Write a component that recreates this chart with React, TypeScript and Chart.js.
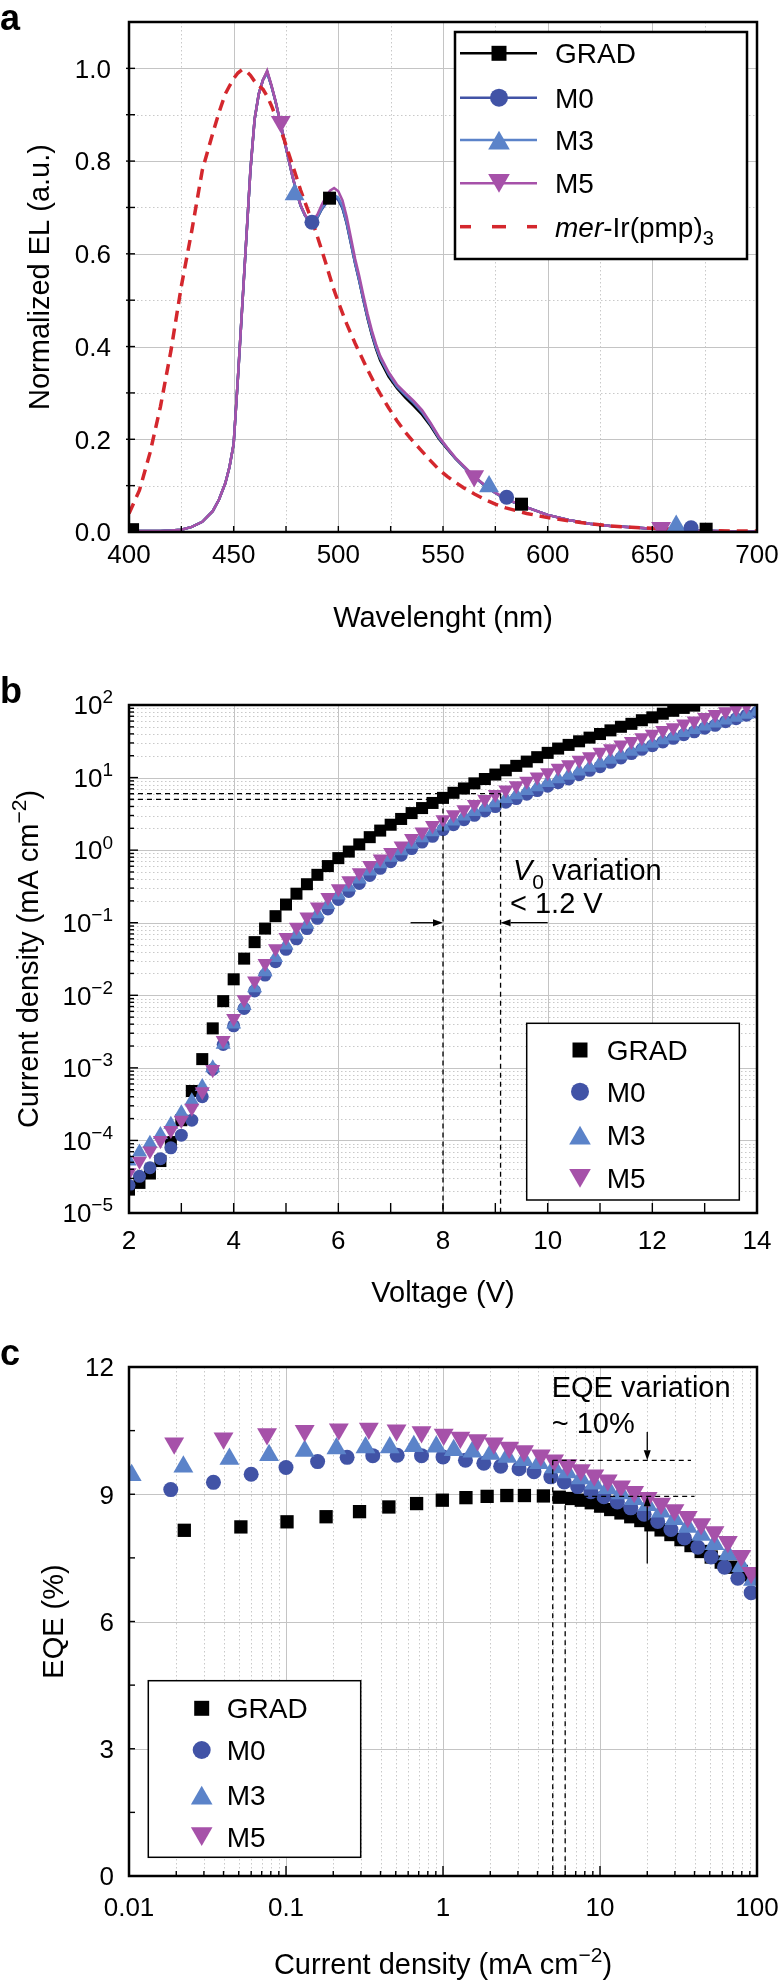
import React, { useEffect, useRef } from 'react';
import { Chart, registerables } from 'chart.js';

Chart.register(...registerables);

const FONT = '"Liberation Sans", Arial, Helvetica, sans-serif';
const C_GRAD = '#000000';
const C_M0 = '#4153a6';
const C_M3 = '#5b83c9';
const C_M5 = '#a651a9';
const C_MER = '#d4272d';
const GRID_MAJOR = '#c4c4c4';
const GRID_MINOR = '#c9c9c9';

// ---------------- panel a : EL spectra ----------------
const WAVELENGTH = [400, 405, 410, 415, 420, 425, 430, 435, 440, 443, 446, 448, 450, 452, 454, 456, 458, 460, 462, 464, 466, 468, 470, 472, 474, 476, 478, 480, 482, 484, 486, 488, 490, 492, 494, 496, 498, 500, 502, 504, 506, 508, 510, 512, 514, 516, 518, 520, 524, 528, 532, 536, 540, 544, 548, 552, 556, 560, 565, 570, 575, 580, 590, 600, 610, 620, 630, 640, 650, 660, 670, 680, 690, 700];
const EL_M5 = [0.003, 0.002, 0.002, 0.002, 0.003, 0.005, 0.011, 0.022, 0.045, 0.07, 0.105, 0.14, 0.19, 0.33, 0.48, 0.63, 0.78, 0.89, 0.945, 0.975, 0.995, 0.965, 0.93, 0.89, 0.85, 0.81, 0.77, 0.735, 0.705, 0.685, 0.672, 0.672, 0.685, 0.705, 0.722, 0.736, 0.742, 0.735, 0.715, 0.68, 0.635, 0.59, 0.552, 0.51, 0.47, 0.435, 0.405, 0.38, 0.345, 0.318, 0.3, 0.283, 0.263, 0.236, 0.206, 0.182, 0.16, 0.142, 0.12, 0.101, 0.085, 0.072, 0.053, 0.037, 0.026, 0.018, 0.013, 0.01, 0.007, 0.005, 0.003, 0.002, 0.001, 0.001];
const EL_M0 = [0.003, 0.002, 0.002, 0.002, 0.003, 0.005, 0.011, 0.022, 0.045, 0.07, 0.105, 0.14, 0.19, 0.33, 0.48, 0.63, 0.78, 0.89, 0.945, 0.975, 0.99, 0.962, 0.928, 0.888, 0.848, 0.808, 0.768, 0.733, 0.703, 0.683, 0.67, 0.668, 0.678, 0.695, 0.708, 0.718, 0.722, 0.716, 0.698, 0.665, 0.622, 0.579, 0.541, 0.5, 0.461, 0.427, 0.398, 0.374, 0.34, 0.313, 0.295, 0.278, 0.258, 0.232, 0.203, 0.18, 0.158, 0.14, 0.119, 0.1, 0.084, 0.071, 0.053, 0.037, 0.026, 0.018, 0.013, 0.01, 0.007, 0.005, 0.003, 0.002, 0.001, 0.001];
const EL_M3 = [0.003, 0.002, 0.002, 0.002, 0.003, 0.005, 0.011, 0.022, 0.045, 0.07, 0.105, 0.14, 0.19, 0.33, 0.48, 0.63, 0.78, 0.89, 0.945, 0.975, 0.992, 0.963, 0.929, 0.889, 0.849, 0.809, 0.769, 0.734, 0.704, 0.684, 0.671, 0.67, 0.68, 0.698, 0.712, 0.723, 0.727, 0.721, 0.703, 0.669, 0.626, 0.582, 0.544, 0.503, 0.464, 0.43, 0.4, 0.376, 0.342, 0.315, 0.297, 0.28, 0.26, 0.234, 0.204, 0.181, 0.159, 0.141, 0.119, 0.1, 0.084, 0.071, 0.053, 0.037, 0.026, 0.018, 0.013, 0.01, 0.007, 0.005, 0.003, 0.002, 0.001, 0.001];
const EL_GRAD = [0.003, 0.002, 0.002, 0.002, 0.003, 0.005, 0.011, 0.022, 0.045, 0.07, 0.105, 0.14, 0.19, 0.33, 0.48, 0.63, 0.78, 0.89, 0.945, 0.975, 0.993, 0.963, 0.929, 0.889, 0.849, 0.809, 0.769, 0.734, 0.704, 0.684, 0.67, 0.669, 0.679, 0.697, 0.712, 0.72, 0.723, 0.717, 0.699, 0.666, 0.624, 0.58, 0.542, 0.5, 0.46, 0.425, 0.395, 0.37, 0.335, 0.31, 0.29, 0.272, 0.253, 0.229, 0.201, 0.179, 0.158, 0.14, 0.119, 0.1, 0.084, 0.071, 0.053, 0.037, 0.026, 0.018, 0.013, 0.01, 0.007, 0.005, 0.003, 0.002, 0.001, 0.001];
const EL_MER = [0.04, 0.09, 0.17, 0.27, 0.39, 0.53, 0.65, 0.78, 0.86, 0.905, 0.945, 0.962, 0.978, 0.99, 0.997, 0.994, 0.985, 0.972, 0.962, 0.955, 0.94, 0.92, 0.897, 0.873, 0.848, 0.82, 0.793, 0.765, 0.737, 0.712, 0.688, 0.665, 0.637, 0.609, 0.58, 0.55, 0.521, 0.496, 0.472, 0.449, 0.428, 0.407, 0.388, 0.369, 0.35, 0.332, 0.314, 0.298, 0.268, 0.24, 0.215, 0.194, 0.174, 0.154, 0.135, 0.12, 0.107, 0.095, 0.082, 0.07, 0.06, 0.052, 0.04, 0.031, 0.024, 0.018, 0.013, 0.01, 0.008, 0.006, 0.004, 0.003, 0.002, 0.002];
const MARK_GRAD_WL = [401.7, 495.8, 587.5, 675.7];
const MARK_GRAD_EL = [0.005, 0.72, 0.06, 0.006];
const MARK_M0_WL = [487.4, 580.4, 668.5];
const MARK_M0_EL = [0.668, 0.075, 0.009];
const MARK_M3_WL = [479.1, 572.0, 661.4];
const MARK_M3_EL = [0.728, 0.098, 0.013];
const MARK_M5_WL = [472.5, 564.9, 654.2];
const MARK_M5_EL = [0.885, 0.121, 0.009];
const A_X_TICKS = [400, 450, 500, 550, 600, 650, 700];
const A_Y_TICKS = [0, 0.2, 0.4, 0.6, 0.8, 1.0];
const A_Y_LABELS = ['0.0', '0.2', '0.4', '0.6', '0.8', '1.0'];

// ---------------- panel b : J-V ----------------
const VOLTAGE = [2.0, 2.2, 2.4, 2.6, 2.8, 3.0, 3.2, 3.4, 3.6, 3.8, 4.0, 4.2, 4.4, 4.6, 4.8, 5.0, 5.2, 5.4, 5.6, 5.8, 6.0, 6.2, 6.4, 6.6, 6.8, 7.0, 7.2, 7.4, 7.6, 7.8, 8.0, 8.2, 8.4, 8.6, 8.8, 9.0, 9.2, 9.4, 9.6, 9.8, 10.0, 10.2, 10.4, 10.6, 10.8, 11.0, 11.2, 11.4, 11.6, 11.8, 12.0, 12.2, 12.4, 12.6, 12.8, 13.0, 13.2, 13.4, 13.6, 13.8, 14.0];
const J_GRAD = [2.1e-5, 2.6e-5, 3.5e-5, 5.2e-5, 9.5e-5, 1.9e-4, 4.8e-4, 1.32e-3, 3.5e-3, 8.3e-3, 1.66e-2, 3.2e-2, 5.4e-2, 8.3e-2, 0.123, 0.178, 0.251, 0.339, 0.457, 0.603, 0.776, 0.955, 1.2, 1.51, 1.86, 2.24, 2.69, 3.24, 3.8, 4.47, 5.25, 6.17, 7.08, 8.32, 9.55, 11.0, 12.6, 14.5, 16.6, 19.1, 21.9, 25.1, 28.2, 31.6, 35.5, 39.8, 44.7, 50.1, 55.0, 61.7, 67.6, 75.9, 83.2, 91.2, 98.0];
const J_M0 = [2.4e-5, 3.2e-5, 4.2e-5, 5.6e-5, 7.9e-5, 1.18e-4, 1.9e-4, 4.0e-4, 9.5e-4, 2.1e-3, 3.8e-3, 6.6e-3, 1.15e-2, 1.9e-2, 2.9e-2, 4.3e-2, 6.0e-2, 8.3e-2, 0.115, 0.155, 0.209, 0.269, 0.347, 0.447, 0.562, 0.692, 0.851, 1.05, 1.29, 1.55, 1.91, 2.24, 2.63, 3.02, 3.47, 3.98, 4.57, 5.13, 5.89, 6.61, 7.59, 8.51, 9.55, 10.96, 12.6, 14.1, 16.2, 18.6, 21.4, 24.5, 27.5, 30.9, 34.7, 38.9, 42.7, 47.9, 52.5, 58.9, 64.6, 72.4, 79.4];
const J_M3 = [5.2e-5, 6.9e-5, 9.1e-5, 1.2e-4, 1.66e-4, 2.4e-4, 3.5e-4, 5.5e-4, 1.0e-3, 2.1e-3, 4.0e-3, 7.2e-3, 1.26e-2, 2.1e-2, 3.3e-2, 4.9e-2, 6.9e-2, 9.5e-2, 0.132, 0.178, 0.24, 0.309, 0.398, 0.513, 0.646, 0.794, 0.977, 1.2, 1.48, 1.78, 2.14, 2.51, 2.95, 3.39, 3.89, 4.47, 5.13, 5.75, 6.61, 7.41, 8.51, 9.55, 10.7, 12.3, 13.8, 15.8, 17.8, 20.4, 22.9, 26.3, 29.5, 33.1, 37.2, 41.7, 45.7, 51.3, 56.2, 61.7, 67.6, 74.1, 81.3];
const J_M5 = [3.6e-5, 5.2e-5, 7.2e-5, 1.0e-4, 1.38e-4, 1.9e-4, 2.8e-4, 4.7e-4, 9.5e-4, 2.4e-3, 4.8e-3, 8.7e-3, 1.58e-2, 2.75e-2, 4.4e-2, 6.3e-2, 8.7e-2, 0.12, 0.166, 0.224, 0.295, 0.38, 0.49, 0.617, 0.759, 0.933, 1.15, 1.45, 1.78, 2.19, 2.63, 3.09, 3.63, 4.27, 5.01, 5.89, 6.76, 7.76, 8.91, 10.2, 11.7, 13.5, 15.1, 17.4, 19.5, 22.4, 25.1, 28.2, 31.6, 35.5, 39.8, 44.7, 49.0, 55.0, 60.3, 67.6, 74.1, 81.3, 89.1, 97.7];
const B_X_TICKS = [2, 4, 6, 8, 10, 12, 14];
const B_Y_EXPONENTS = [-5, -4, -3, -2, -1, 0, 1, 2];
const B_REF_J = [6, 5];
const B_REF_V = [9.1, 8];

// ---------------- panel c : EQE ----------------
const C_GRAD_J = [0.0225, 0.0516, 0.1015, 0.18, 0.294, 0.452, 0.679, 0.99, 1.4, 1.91, 2.55, 3.3, 4.36, 5.5, 6.6, 7.6, 8.8, 10.1, 11.7, 13.6, 15.7, 18.2, 21.1, 24.5, 28.3, 32.8, 38.0, 44.1, 51.1, 59.2, 68.4, 79.4, 91.6];
const C_GRAD_EQE = [8.15, 8.23, 8.35, 8.47, 8.59, 8.7, 8.78, 8.86, 8.92, 8.95, 8.97, 8.97, 8.96, 8.93, 8.9, 8.86, 8.8, 8.72, 8.64, 8.56, 8.47, 8.38, 8.28, 8.16, 8.05, 7.93, 7.79, 7.65, 7.52, 7.4, 7.28, 7.18, 7.1];
const C_M0_J = [0.01845, 0.0345, 0.06, 0.1, 0.159, 0.245, 0.357, 0.511, 0.73, 1.0, 1.39, 1.82, 2.33, 3.05, 3.8, 4.86, 5.92, 7.2, 8.75, 10.6, 12.9, 15.7, 19.1, 23.3, 28.3, 34.5, 42.0, 51.1, 62.1, 75.5, 91.8];
const C_M0_EQE = [9.11, 9.28, 9.47, 9.63, 9.77, 9.87, 9.91, 9.92, 9.91, 9.88, 9.8, 9.73, 9.66, 9.6, 9.53, 9.41, 9.29, 9.18, 9.06, 8.94, 8.82, 8.68, 8.53, 8.36, 8.17, 7.97, 7.75, 7.52, 7.28, 7.02, 6.68];
const C_M3_J = [0.0104, 0.0222, 0.0436, 0.078, 0.1315, 0.2095, 0.321, 0.458, 0.652, 0.906, 1.17, 1.54, 2.01, 2.57, 3.28, 4.09, 5.1, 6.2, 7.55, 9.2, 11.2, 13.6, 16.5, 20.1, 24.5, 29.8, 36.2, 44.1, 53.6, 65.2, 79.4, 94.3];
const C_M3_EQE = [9.45, 9.65, 9.83, 9.92, 10.02, 10.08, 10.1, 10.1, 10.13, 10.12, 10.04, 10.0, 9.95, 9.88, 9.8, 9.73, 9.63, 9.51, 9.37, 9.25, 9.14, 9.02, 8.88, 8.74, 8.59, 8.41, 8.23, 8.04, 7.82, 7.58, 7.3, 6.98];
const C_M5_J = [0.0194, 0.04, 0.0757, 0.1315, 0.217, 0.337, 0.506, 0.73, 1.01, 1.29, 1.66, 2.11, 2.64, 3.28, 4.2, 5.1, 6.2, 7.55, 9.2, 11.2, 13.6, 16.5, 20.1, 24.5, 29.8, 36.2, 44.1, 53.6, 65.2, 79.4, 91.8];
const C_M5_EQE = [10.2, 10.32, 10.42, 10.5, 10.53, 10.55, 10.51, 10.47, 10.41, 10.34, 10.28, 10.2, 10.1, 10.02, 9.92, 9.8, 9.69, 9.57, 9.45, 9.33, 9.19, 9.06, 8.92, 8.78, 8.63, 8.47, 8.3, 8.11, 7.88, 7.55, 7.15];
const C_X_TICKS = [0.01, 0.1, 1, 10, 100];
const C_X_LABELS = ['0.01', '0.1', '1', '10', '100'];
const C_Y_TICKS = [0, 3, 6, 9, 12];
const C_REF_EQE = [9.8, 8.95];
const C_REF_J = [5, 6];
const C_REF_END = [38, 40];

// ---------------- helpers ----------------
const pts = (xs: number[], ys: number[]) => ys.map((y, i) => ({ x: xs[i], y }));

type Seg = { t: string; i?: boolean; b?: boolean; sub?: boolean; sup?: boolean };

function segFont(s: Seg, size: number) {
  const sz = s.sub || s.sup ? Math.round(size * 0.72) : size;
  return `${s.i ? 'italic ' : ''}${s.b ? 'bold ' : ''}${sz}px ${FONT}`;
}

function drawRich(ctx: any, segs: Seg[], x: number, y: number, size: number, align: string) {
  ctx.save();
  ctx.textBaseline = 'alphabetic';
  ctx.textAlign = 'left';
  ctx.fillStyle = '#000';
  let total = 0;
  const ws = segs.map((s) => {
    ctx.font = segFont(s, size);
    const w = ctx.measureText(s.t).width;
    total += w;
    return w;
  });
  let cx = align === 'left' ? x : align === 'center' ? x - total / 2 : x - total;
  segs.forEach((s, k) => {
    ctx.font = segFont(s, size);
    const dy = s.sub ? size * 0.3 : s.sup ? -size * 0.42 : 0;
    ctx.fillText(s.t, cx, y + dy);
    cx += ws[k];
  });
  ctx.restore();
}

function drawRichRot(ctx: any, segs: Seg[], x: number, y: number, size: number) {
  ctx.save();
  ctx.translate(x, y);
  ctx.rotate(-Math.PI / 2);
  drawRich(ctx, segs, 0, 0, size, 'center');
  ctx.restore();
}

function seg(ctx: any, x1: number, y1: number, x2: number, y2: number, color: string, w: number, dash: number[] = []) {
  ctx.save();
  ctx.strokeStyle = color;
  ctx.lineWidth = w;
  ctx.setLineDash(dash);
  ctx.beginPath();
  ctx.moveTo(x1, y1);
  ctx.lineTo(x2, y2);
  ctx.stroke();
  ctx.restore();
}

function arrow(ctx: any, x1: number, y1: number, x2: number, y2: number) {
  const ang = Math.atan2(y2 - y1, x2 - x1);
  const hl = 10, hw = 3.5;
  const bx = x2 - Math.cos(ang) * hl, by = y2 - Math.sin(ang) * hl;
  seg(ctx, x1, y1, bx, by, '#000', 1.3);
  ctx.save();
  ctx.fillStyle = '#000';
  ctx.beginPath();
  ctx.moveTo(x2, y2);
  ctx.lineTo(bx - Math.sin(ang) * hw, by + Math.cos(ang) * hw);
  ctx.lineTo(bx + Math.sin(ang) * hw, by - Math.cos(ang) * hw);
  ctx.closePath();
  ctx.fill();
  ctx.restore();
}

function drawMarker(ctx: any, shape: string, x: number, y: number, r: number, color: string) {
  ctx.save();
  ctx.fillStyle = color;
  ctx.beginPath();
  if (shape === 'rect') {
    const s = r * Math.SQRT1_2;
    ctx.rect(x - s, y - s, 2 * s, 2 * s);
  } else if (shape === 'circle') {
    ctx.arc(x, y, r, 0, Math.PI * 2);
  } else if (shape === 'tri') {
    const yc = y + r * 0.25;
    ctx.moveTo(x, yc - r);
    ctx.lineTo(x + r * 0.866, yc + r * 0.5);
    ctx.lineTo(x - r * 0.866, yc + r * 0.5);
    ctx.closePath();
  } else {
    const yc = y - r * 0.25;
    ctx.moveTo(x, yc + r);
    ctx.lineTo(x + r * 0.866, yc - r * 0.5);
    ctx.lineTo(x - r * 0.866, yc - r * 0.5);
    ctx.closePath();
  }
  ctx.fill();
  ctx.restore();
}

function gridLines(chart: any, axis: string, vals: number[], color: string, dash: number[]) {
  const { ctx, chartArea: a } = chart;
  const sc = chart.scales[axis];
  ctx.save();
  ctx.strokeStyle = color;
  ctx.lineWidth = 1;
  ctx.setLineDash(dash);
  for (const v of vals) {
    const p = Math.round(sc.getPixelForValue(v)) + 0.5;
    ctx.beginPath();
    if (axis === 'x') {
      ctx.moveTo(p, a.top);
      ctx.lineTo(p, a.bottom);
    } else {
      ctx.moveTo(a.left, p);
      ctx.lineTo(a.right, p);
    }
    ctx.stroke();
  }
  ctx.restore();
}

function tickMarks(chart: any, axis: string, vals: number[], inLen: number, outLen: number) {
  const { ctx, chartArea: a } = chart;
  const sc = chart.scales[axis];
  for (const v of vals) {
    const p = sc.getPixelForValue(v);
    if (axis === 'x') seg(ctx, p, a.bottom - inLen, p, a.bottom + outLen, '#000', 1.4);
    else seg(ctx, a.left - outLen, p, a.left + inLen, p, '#000', 1.4);
  }
}

function frame(chart: any) {
  const { ctx, chartArea: a } = chart;
  ctx.save();
  ctx.strokeStyle = '#000';
  ctx.lineWidth = 2.5;
  ctx.strokeRect(a.left, a.top, a.right - a.left, a.bottom - a.top);
  ctx.restore();
}

function legendBox(ctx: any, x: number, y: number, w: number, h: number, lw: number) {
  ctx.save();
  ctx.fillStyle = '#fff';
  ctx.fillRect(x, y, w, h);
  ctx.strokeStyle = '#000';
  ctx.lineWidth = lw;
  ctx.strokeRect(x, y, w, h);
  ctx.restore();
}

const SERIES = [
  { name: 'GRAD', color: C_GRAD, shape: 'rect' },
  { name: 'M0', color: C_M0, shape: 'circle' },
  { name: 'M3', color: C_M3, shape: 'tri' },
  { name: 'M5', color: C_M5, shape: 'itri' },
];
const LEGEND_R: any = { rect: 10.6, circle: 9, tri: 12.5, itri: 12.5 };

function scatterLegend(ctx: any, bx: number, by: number, bw: number, bh: number, ys: number[], mx: number, tx: number) {
  legendBox(ctx, bx, by, bw, bh, 1.5);
  SERIES.forEach((s, k) => {
    drawMarker(ctx, s.shape, mx, ys[k], LEGEND_R[s.shape], s.color);
    drawRich(ctx, [{ t: s.name }], tx, ys[k] + 10, 28, 'left');
  });
}

function logMinor(e0: number, e1: number) {
  const out: number[] = [];
  for (let e = e0; e <= e1; e++) for (let k = 2; k <= 9; k++) out.push(k * Math.pow(10, e));
  return out;
}

// ---------------- panel decorations ----------------
function gridA(chart: any) {
  gridLines(chart, 'x', [425, 475, 525, 575, 625, 675], GRID_MINOR, [1.5, 2.5]);
  gridLines(chart, 'y', [0.1, 0.3, 0.5, 0.7, 0.9], GRID_MINOR, [1.5, 2.5]);
  gridLines(chart, 'x', [450, 500, 550, 600, 650], GRID_MAJOR, []);
  gridLines(chart, 'y', [0.2, 0.4, 0.6, 0.8, 1.0], GRID_MAJOR, []);
}

function decoA(chart: any) {
  const { ctx } = chart;
  const X = chart.scales.x, Y = chart.scales.y;
  tickMarks(chart, 'y', [0.1, 0.2, 0.3, 0.4, 0.5, 0.6, 0.7, 0.8, 0.9, 1.0], 6, 3);
  tickMarks(chart, 'x', [425, 450, 475, 500, 525, 550, 575, 600, 625, 650, 675], 6, 0);
  frame(chart);
  ctx.save();
  ctx.font = `26px ${FONT}`;
  ctx.fillStyle = '#000';
  ctx.textBaseline = 'alphabetic';
  ctx.textAlign = 'center';
  A_X_TICKS.forEach((v) => ctx.fillText(String(v), X.getPixelForValue(v), 563));
  ctx.textAlign = 'right';
  A_Y_TICKS.forEach((v, k) => ctx.fillText(A_Y_LABELS[k], 111, Y.getPixelForValue(v) + 9.3));
  ctx.restore();
  drawRich(ctx, [{ t: 'Wavelenght (nm)' }], 443, 627, 29, 'center');
  drawRichRot(ctx, [{ t: 'Normalized EL (a.u.)' }], 49, 277, 29);
  drawRich(ctx, [{ t: 'a', b: true }], 0, 30, 36, 'left');
  // legend
  legendBox(ctx, 455, 32, 292, 227, 2.5);
  const ys = [53.3, 97.7, 140, 183.3, 226.7];
  SERIES.forEach((s, k) => {
    seg(ctx, 460, ys[k], 537, ys[k], s.color, 2.5);
    drawMarker(ctx, s.shape, 499, ys[k], LEGEND_R[s.shape], s.color);
    drawRich(ctx, [{ t: s.name }], 555, ys[k] + 10, 28, 'left');
  });
  seg(ctx, 460, ys[4], 471, ys[4], C_MER, 3.5);
  seg(ctx, 492, ys[4], 506, ys[4], C_MER, 3.5);
  seg(ctx, 527, ys[4], 537, ys[4], C_MER, 3.5);
  drawRich(ctx, [{ t: 'mer', i: true }, { t: '-Ir(pmp)' }, { t: '3', sub: true }], 555, ys[4] + 10, 28, 'left');
}

function gridB(chart: any) {
  gridLines(chart, 'y', logMinor(-5, 1), GRID_MINOR, [1.5, 2.5]);
  gridLines(chart, 'y', [1e-4, 1e-3, 1e-2, 1e-1, 1, 10], GRID_MAJOR, []);
  gridLines(chart, 'x', [4, 6, 8, 10, 12], GRID_MAJOR, []);
}

function decoB(chart: any) {
  const { ctx } = chart;
  const X = chart.scales.x, Y = chart.scales.y;
  const dash = [5, 4];
  const x0 = X.getPixelForValue(2);
  seg(ctx, x0, Y.getPixelForValue(B_REF_J[0]), X.getPixelForValue(B_REF_V[0]), Y.getPixelForValue(B_REF_J[0]), '#000', 1.3, dash);
  seg(ctx, x0, Y.getPixelForValue(B_REF_J[1]), X.getPixelForValue(B_REF_V[1]), Y.getPixelForValue(B_REF_J[1]), '#000', 1.3, dash);
  seg(ctx, X.getPixelForValue(B_REF_V[0]), Y.getPixelForValue(B_REF_J[0]), X.getPixelForValue(B_REF_V[0]), Y.getPixelForValue(1e-5), '#000', 1.3, dash);
  seg(ctx, X.getPixelForValue(B_REF_V[1]), Y.getPixelForValue(B_REF_J[1]), X.getPixelForValue(B_REF_V[1]), Y.getPixelForValue(1e-5), '#000', 1.3, dash);
  const ya = Y.getPixelForValue(0.1);
  arrow(ctx, X.getPixelForValue(7.38), ya, X.getPixelForValue(B_REF_V[1]), ya);
  arrow(ctx, X.getPixelForValue(10.0), ya, X.getPixelForValue(B_REF_V[0]), ya);
  drawRich(ctx, [{ t: 'V', i: true }, { t: '0', sub: true }, { t: ' variation' }], 513, 220, 29, 'left');
  drawRich(ctx, [{ t: '< 1.2 V' }], 510, 253, 29, 'left');
  tickMarks(chart, 'y', logMinor(-5, 1), 5, 0);
  tickMarks(chart, 'y', [1e-4, 1e-3, 1e-2, 1e-1, 1, 10], 9, 0);
  tickMarks(chart, 'x', [3, 4, 5, 6, 7, 8, 9, 10, 11, 12, 13], 10, 0);
  frame(chart);
  ctx.save();
  ctx.font = `26px ${FONT}`;
  ctx.fillStyle = '#000';
  ctx.textAlign = 'center';
  ctx.textBaseline = 'alphabetic';
  B_X_TICKS.forEach((v) => ctx.fillText(String(v), X.getPixelForValue(v), 589));
  ctx.restore();
  B_Y_EXPONENTS.forEach((e) => {
    const lab = e < 0 ? '\u2212' + String(-e) : String(e);
    drawRich(ctx, [{ t: '10' }, { t: lab, sup: true }], 113, Y.getPixelForValue(Math.pow(10, e)) + 9.3, 26, 'right');
  });
  drawRich(ctx, [{ t: 'Voltage (V)' }], 443, 642, 29, 'center');
  drawRichRot(ctx, [{ t: 'Current density (mA cm' }, { t: '\u22122', sup: true }, { t: ')' }], 38, 299, 29);
  drawRich(ctx, [{ t: 'b', b: true }], 0, 43, 36, 'left');
  scatterLegend(ctx, 526.7, 363.3, 212.6, 176.7, [390, 431.7, 475, 518.3], 580, 606.7);
}

function gridC(chart: any) {
  gridLines(chart, 'x', logMinor(-2, 1), GRID_MINOR, [1.5, 2.5]);
  gridLines(chart, 'x', [0.1, 1, 10], GRID_MAJOR, []);
  gridLines(chart, 'y', [3, 6, 9], GRID_MAJOR, []);
}

function decoC(chart: any) {
  const { ctx } = chart;
  const X = chart.scales.x, Y = chart.scales.y;
  const dash = [5, 4];
  seg(ctx, X.getPixelForValue(C_REF_J[0]), Y.getPixelForValue(C_REF_EQE[0]), X.getPixelForValue(C_REF_END[0]), Y.getPixelForValue(C_REF_EQE[0]), '#000', 1.3, dash);
  seg(ctx, X.getPixelForValue(C_REF_J[1]), Y.getPixelForValue(C_REF_EQE[1]), X.getPixelForValue(C_REF_END[1]), Y.getPixelForValue(C_REF_EQE[1]), '#000', 1.3, dash);
  seg(ctx, X.getPixelForValue(C_REF_J[0]), Y.getPixelForValue(C_REF_EQE[0]), X.getPixelForValue(C_REF_J[0]), Y.getPixelForValue(0), '#000', 1.3, dash);
  seg(ctx, X.getPixelForValue(C_REF_J[1]), Y.getPixelForValue(C_REF_EQE[1]), X.getPixelForValue(C_REF_J[1]), Y.getPixelForValue(0), '#000', 1.3, dash);
  const xa = X.getPixelForValue(20);
  arrow(ctx, xa, Y.getPixelForValue(10.47), xa, Y.getPixelForValue(C_REF_EQE[0]));
  arrow(ctx, xa, Y.getPixelForValue(7.37), xa, Y.getPixelForValue(C_REF_EQE[1]));
  drawRich(ctx, [{ t: 'EQE variation' }], 551.7, 97, 29, 'left');
  drawRich(ctx, [{ t: '~ 10%' }], 551.7, 133, 29, 'left');
  tickMarks(chart, 'y', [1.5, 3, 4.5, 6, 7.5, 9, 10.5], 6, 0);
  tickMarks(chart, 'x', logMinor(-2, 1), 5, 0);
  tickMarks(chart, 'x', [0.1, 1, 10], 10, 0);
  frame(chart);
  ctx.save();
  ctx.font = `26px ${FONT}`;
  ctx.fillStyle = '#000';
  ctx.textBaseline = 'alphabetic';
  ctx.textAlign = 'center';
  C_X_TICKS.forEach((v, k) => ctx.fillText(C_X_LABELS[k], X.getPixelForValue(v), 616));
  ctx.textAlign = 'right';
  C_Y_TICKS.forEach((v) => ctx.fillText(String(v), 114, Y.getPixelForValue(v) + 9.3));
  ctx.restore();
  drawRich(ctx, [{ t: 'Current density (mA cm' }, { t: '\u22122', sup: true }, { t: ')' }], 443, 674, 29, 'center');
  drawRichRot(ctx, [{ t: 'EQE (%)' }], 63, 321.5, 29);
  drawRich(ctx, [{ t: 'c', b: true }], 0, 65, 36, 'left');
  scatterLegend(ctx, 148.3, 380.7, 212.4, 176.6, [408.3, 450, 495, 536.7], 201.7, 226.7);
}

// ---------------- chart configs ----------------
const baseOptions = (padding: any, scales: any) => ({
  responsive: false,
  animation: false,
  devicePixelRatio: 1,
  events: [],
  layout: { padding },
  plugins: { legend: { display: false }, tooltip: { enabled: false }, title: { display: false } },
  scales,
});

const lineDs = (label: string, ys: number[], color: string, order: number) => ({
  label,
  data: pts(WAVELENGTH, ys),
  borderColor: color,
  backgroundColor: color,
  borderWidth: 2.5,
  pointRadius: 0,
  tension: 0,
  fill: false,
  order,
});

const markDs = (label: string, xs: number[], ys: number[], color: string, style: string, r: number, rot: number) => ({
  label,
  data: pts(xs, ys),
  showLine: false,
  pointStyle: style,
  pointRadius: r,
  pointRotation: rot,
  pointBackgroundColor: color,
  pointBorderColor: color,
  pointBorderWidth: 0,
  backgroundColor: color,
  borderColor: color,
  order: 0,
});

const scatDs = (label: string, xs: number[], ys: number[], color: string, style: string, r: number, rot: number, order: number) => ({
  label,
  data: pts(xs, ys),
  pointStyle: style,
  pointRadius: r,
  pointRotation: rot,
  pointBackgroundColor: color,
  pointBorderColor: color,
  pointBorderWidth: 0,
  backgroundColor: color,
  borderColor: color,
  order,
});

export default function App() {
  const refA = useRef<HTMLCanvasElement>(null);
  const refB = useRef<HTMLCanvasElement>(null);
  const refC = useRef<HTMLCanvasElement>(null);

  useEffect(() => {
    const charts: any[] = [];
    charts.push(
      new Chart(refA.current as any, {
        type: 'line',
        data: {
          datasets: [
            lineDs('GRAD', EL_GRAD, C_GRAD, 5),
            lineDs('M0', EL_M0, C_M0, 4),
            lineDs('M3', EL_M3, C_M3, 3),
            lineDs('M5', EL_M5, C_M5, 2),
            {
              label: 'mer-Ir(pmp)3',
              data: pts(WAVELENGTH, EL_MER),
              borderColor: C_MER,
              backgroundColor: C_MER,
              borderWidth: 3.5,
              borderDash: [11, 7],
              pointRadius: 0,
              tension: 0,
              fill: false,
              order: 1,
            },
            markDs('GRAD marks', MARK_GRAD_WL, MARK_GRAD_EL, C_GRAD, 'rect', 9.2, 0),
            markDs('M0 marks', MARK_M0_WL, MARK_M0_EL, C_M0, 'circle', 7.5, 0),
            markDs('M3 marks', MARK_M3_WL, MARK_M3_EL, C_M3, 'triangle', 11.5, 0),
            markDs('M5 marks', MARK_M5_WL, MARK_M5_EL, C_M5, 'triangle', 11.5, 180),
          ] as any,
        },
        options: baseOptions({ left: 129, right: 24, top: 22, bottom: 128 }, {
          x: { type: 'linear', min: 400, max: 700, display: false },
          y: { type: 'linear', min: 0, max: 1.1, display: false },
        }) as any,
        plugins: [{ id: 'decoA', beforeDatasetsDraw: (c: any) => gridA(c), afterDatasetsDraw: (c: any) => decoA(c) }],
      })
    );
    charts.push(
      new Chart(refB.current as any, {
        type: 'scatter',
        data: {
          datasets: [
            scatDs('GRAD', VOLTAGE, J_GRAD, C_GRAD, 'rect', 8.5, 0, 4),
            scatDs('M0', VOLTAGE, J_M0, C_M0, 'circle', 6.5, 0, 3),
            scatDs('M3', VOLTAGE, J_M3, C_M3, 'triangle', 8.7, 0, 2),
            scatDs('M5', VOLTAGE, J_M5, C_M5, 'triangle', 8.7, 180, 1),
          ] as any,
        },
        options: baseOptions({ left: 129, right: 24, top: 45, bottom: 167 }, {
          x: { type: 'linear', min: 2, max: 14, display: false },
          y: { type: 'logarithmic', min: 1e-5, max: 100, display: false },
        }) as any,
        plugins: [{ id: 'decoB', beforeDatasetsDraw: (c: any) => gridB(c), afterDatasetsDraw: (c: any) => decoB(c) }],
      })
    );
    charts.push(
      new Chart(refC.current as any, {
        type: 'scatter',
        data: {
          datasets: [
            scatDs('GRAD', C_GRAD_J, C_GRAD_EQE, C_GRAD, 'rect', 9.4, 0, 4),
            scatDs('M0', C_M0_J, C_M0_EQE, C_M0, 'circle', 7.5, 0, 3),
            scatDs('M3', C_M3_J, C_M3_EQE, C_M3, 'triangle', 11.5, 0, 2),
            scatDs('M5', C_M5_J, C_M5_EQE, C_M5, 'triangle', 11.5, 180, 1),
          ] as any,
        },
        options: baseOptions({ left: 129, right: 24, top: 67, bottom: 106 }, {
          x: { type: 'logarithmic', min: 0.01, max: 100, display: false },
          y: { type: 'linear', min: 0, max: 12, display: false },
        }) as any,
        plugins: [{ id: 'decoC', beforeDatasetsDraw: (c: any) => gridC(c), afterDatasetsDraw: (c: any) => decoC(c) }],
      })
    );
    return () => charts.forEach((c) => c.destroy());
  }, []);

  return (
    <div style={{ position: 'absolute', left: 0, top: 0, width: 781, height: 1982, background: '#fff', overflow: 'hidden' }}>
      <canvas ref={refA} width={781} height={660} style={{ position: 'absolute', left: 0, top: 0, width: 781, height: 660 }} />
      <canvas ref={refB} width={781} height={720} style={{ position: 'absolute', left: 0, top: 660, width: 781, height: 720 }} />
      <canvas ref={refC} width={781} height={682} style={{ position: 'absolute', left: 0, top: 1300, width: 781, height: 682 }} />
    </div>
  );
}
